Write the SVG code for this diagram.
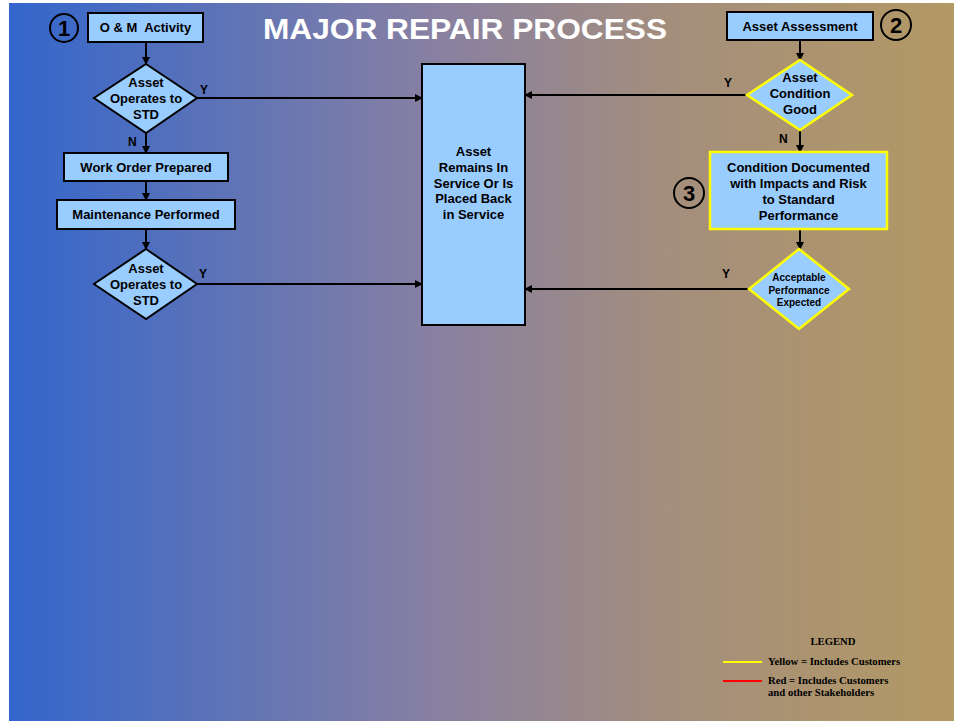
<svg xmlns="http://www.w3.org/2000/svg" width="954" height="721" viewBox="0 0 954 721">
<defs>
<linearGradient id="bg" x1="0" y1="0" x2="1" y2="0">
<stop offset="0" stop-color="#3366cc"/>
<stop offset="0.45" stop-color="#8880a2"/>
<stop offset="0.7" stop-color="#a48e7c"/>
<stop offset="1" stop-color="#b39964"/>
</linearGradient>
<marker id="ah" markerWidth="8" markerHeight="8" refX="7" refY="4" orient="auto" markerUnits="userSpaceOnUse">
<path d="M0,0 L8,4 L0,8 Z" fill="#000"/>
</marker>
<style>
.box{fill:#99ccff;stroke:#000;stroke-width:2}
.ybox{fill:#99ccff;stroke:#ffff00;stroke-width:2.5}
.t{font-family:"Liberation Sans",Arial,sans-serif;font-weight:bold;font-size:13px;fill:#000;text-anchor:middle}
.s{font-family:"Liberation Sans",Arial,sans-serif;font-weight:bold;font-size:10px;fill:#000;text-anchor:middle}
.lbl{font-family:"Liberation Sans",Arial,sans-serif;font-weight:bold;font-size:12px;fill:#000}
.num{font-family:"Liberation Sans",Arial,sans-serif;font-weight:bold;font-size:22px;fill:#000;text-anchor:middle}
.circ{fill:none;stroke:#000;stroke-width:2}
.c{fill:none;stroke:#000;stroke-width:2;marker-end:url(#ah)}
.leg{font-family:"Liberation Serif","Times New Roman",serif;font-weight:bold;font-size:10.7px;fill:#000}
</style>
</defs>
<rect x="0" y="0" width="954" height="721" fill="#fff"/>
<rect x="9" y="3" width="945" height="718" fill="url(#bg)"/>
<text x="263" y="39" font-family="Liberation Sans, Arial, sans-serif" font-weight="bold" font-size="30" fill="#fff" textLength="404" lengthAdjust="spacingAndGlyphs">MAJOR REPAIR PROCESS</text>

<g id="connectors">
<line class="c" x1="146" y1="42" x2="146" y2="64"/>
<line class="c" x1="146" y1="133" x2="146" y2="153"/>
<line class="c" x1="146" y1="181" x2="146" y2="200"/>
<line class="c" x1="146" y1="229" x2="146" y2="249"/>
<line class="c" x1="197" y1="98" x2="422" y2="98"/>
<line class="c" x1="197" y1="284" x2="422" y2="284"/>
<line class="c" x1="800" y1="40" x2="800" y2="60"/>
<line class="c" x1="800" y1="130" x2="800" y2="152"/>
<line class="c" x1="800" y1="229" x2="800" y2="249"/>
<line class="c" x1="747" y1="95" x2="525" y2="95"/>
<line class="c" x1="749" y1="289" x2="525" y2="289"/>
<text class="lbl" x="200" y="94">Y</text>
<text class="lbl" x="128" y="146">N</text>
<text class="lbl" x="199" y="278">Y</text>
<text class="lbl" x="724" y="87">Y</text>
<text class="lbl" x="779" y="143">N</text>
<text class="lbl" x="722" y="278">Y</text>
</g>

<g id="n1">
<circle class="circ" cx="64" cy="28" r="14"/>
<text class="num" x="64" y="36">1</text>
</g>
<g id="om">
<rect class="box" x="88" y="13" width="115" height="29"/>
<text class="t" x="145.5" y="32" xml:space="preserve">O &amp; M  Activity</text>
</g>
<g id="d1">
<polygon class="box" points="146,64 197,98 146,133 94,98"/>
<text class="t" x="146" y="87">Asset</text>
<text class="t" x="146" y="103">Operates to</text>
<text class="t" x="146" y="119">STD</text>
</g>
<g id="wo">
<rect class="box" x="64" y="153" width="164" height="28"/>
<text class="t" x="146" y="172">Work Order Prepared</text>
</g>
<g id="mp">
<rect class="box" x="57" y="200" width="178" height="29"/>
<text class="t" x="146" y="219">Maintenance Performed</text>
</g>
<g id="d2">
<polygon class="box" points="146,249 197,284 146,319 94,284"/>
<text class="t" x="146" y="273">Asset</text>
<text class="t" x="146" y="289">Operates to</text>
<text class="t" x="146" y="305">STD</text>
</g>
<g id="center">
<rect class="box" x="422" y="64" width="103" height="261"/>
<text class="t" x="473.5" y="156">Asset</text>
<text class="t" x="473.5" y="172">Remains In</text>
<text class="t" x="473.5" y="188">Service Or Is</text>
<text class="t" x="473.5" y="203">Placed Back</text>
<text class="t" x="473.5" y="219">in Service</text>
</g>
<g id="aa">
<rect class="box" x="727" y="12" width="146" height="28"/>
<text class="t" x="800" y="31">Asset Assessment</text>
</g>
<g id="n2">
<circle class="circ" cx="896" cy="25" r="15"/>
<text class="num" x="896" y="33">2</text>
</g>
<g id="d3">
<polygon class="ybox" points="800,60 852,95 800,130 747,95"/>
<text class="t" x="800" y="82">Asset</text>
<text class="t" x="800" y="98">Condition</text>
<text class="t" x="800" y="114">Good</text>
</g>
<g id="cd">
<rect class="ybox" x="710" y="152" width="177" height="77"/>
<text class="t" x="798.5" y="172">Condition Documented</text>
<text class="t" x="798.5" y="188">with Impacts and Risk</text>
<text class="t" x="798.5" y="204">to Standard</text>
<text class="t" x="798.5" y="220">Performance</text>
</g>
<g id="n3">
<circle class="circ" cx="689" cy="193" r="15"/>
<text class="num" x="689" y="201">3</text>
</g>
<g id="d4">
<polygon class="ybox" points="799,249 849,289 799,329 749,289"/>
<text class="s" x="799" y="281">Acceptable</text>
<text class="s" x="799" y="294">Performance</text>
<text class="s" x="799" y="306">Expected</text>
</g>
<g id="legend">
<text class="leg" x="833" y="645" text-anchor="middle">LEGEND</text>
<line x1="723" y1="662" x2="762" y2="662" stroke="#ffff00" stroke-width="2"/>
<text class="leg" x="768" y="665">Yellow = Includes Customers</text>
<line x1="723" y1="681" x2="762" y2="681" stroke="#ff0000" stroke-width="2"/>
<text class="leg" x="768" y="684">Red = Includes Customers</text>
<text class="leg" x="768" y="696">and other Stakeholders</text>
</g>
</svg>
